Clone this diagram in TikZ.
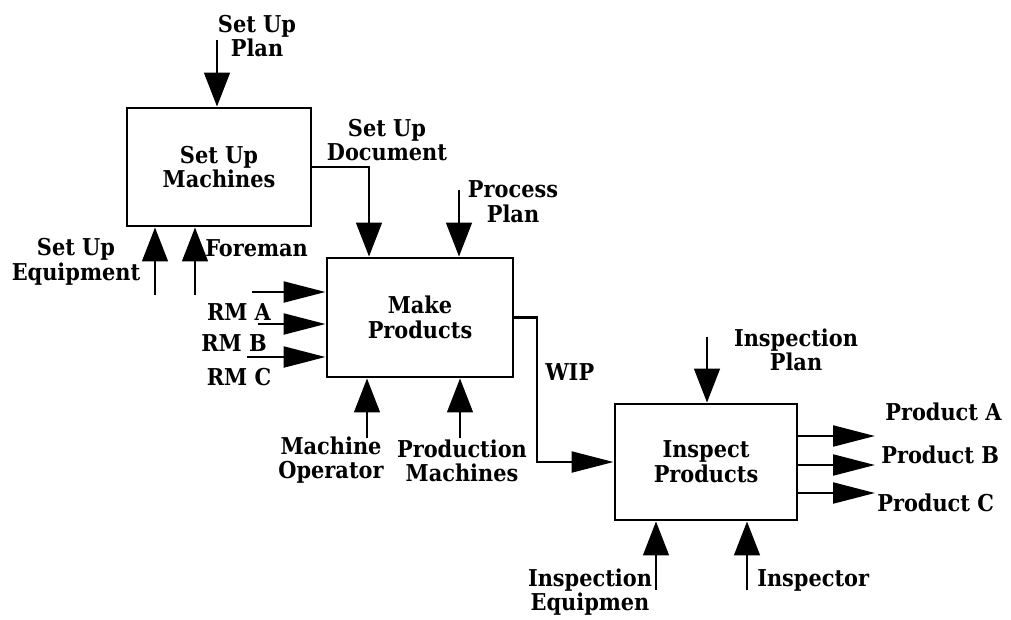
\documentclass[tikz,border=0pt]{standalone}
\usepackage{fontspec}
\setmainfont{DejaVu Serif Condensed}[BoldFont={DejaVu Serif Condensed Bold}]
\usetikzlibrary{arrows.meta}

\begin{document}
\begin{tikzpicture}[
    x=0.025cm, y=-0.025cm,
    box/.style={rectangle, draw=black, line width=2pt, align=center,
                font=\bfseries\fontsize{16.5}{17.5}\selectfont},
    lbl/.style={align=center, inner sep=0pt, font=\bfseries\fontsize{16.5}{17.5}\selectfont},
    vline/.style={-{Triangle[length=8.5mm, width=6.4mm]}, line width=2pt},
    hline/.style={-{Triangle[length=10.5mm, width=5.2mm]}, line width=2pt},
  ]
  \useasboundingbox (0,0) rectangle (1011,619);

  % activity boxes
  \node[box, minimum width=4.6cm, minimum height=2.95cm] (setup) at (219,167) {Set Up\\Machines};
  \node[box, minimum width=4.65cm, minimum height=2.975cm] (make) at (420,317.5) {Make\\Products};
  \node[box, minimum width=4.55cm, minimum height=2.9cm] (insp) at (706,462) {Inspect\\Products};

  % free ends of the arrows
  \coordinate (supplan) at (217,40);
  \coordinate (docx)    at (369,0);
  \coordinate (procpl)  at (459,190);
  \coordinate (supeq)   at (155,295);
  \coordinate (fore)    at (195,295);
  \coordinate (rmz)     at (252,292);
  \coordinate (rma)     at (258,324);
  \coordinate (rmb)     at (247,357);
  \coordinate (mop)     at (367,438);
  \coordinate (pmach)   at (460,438);
  \coordinate (wipx)    at (537,0);
  \coordinate (insppl)  at (707,337);
  \coordinate (ieq)     at (656,590);
  \coordinate (inspr)   at (747,590);
  \coordinate (pa)      at (875,436);
  \coordinate (pb)      at (875,465);
  \coordinate (pc)      at (875,493);

  % labels
  \node[lbl] (lsupplan) at (257,36)  {Set Up\\Plan};
  \node[lbl] (ldoc)     at (387,140) {Set Up\\Document};
  \node[lbl] (lprocpl)  at (513,202) {Process\\Plan};
  \node[lbl] (lsupeq)   at (76,262)  {Set Up\\Equipment};
  \node[lbl, anchor=west] (lfore) at (205,248) {Foreman};
  \node[lbl] (lrma)     at (239,312) {RM A};
  \node[lbl] (lrmb)     at (234,343) {RM B};
  \node[lbl] (lrmc)     at (239,377) {RM C};
  \node[lbl] (lmop)     at (331,460) {Machine\\Operator};
  \node[lbl] (lpmach)   at (462,461) {Production\\Machines};
  \node[lbl, anchor=west] (lwip) at (545,372) {WIP};
  \node[lbl] (linsppl)  at (796,350) {Inspection\\Plan};
  \node[lbl, anchor=west] (lpa) at (885,412) {Product A};
  \node[lbl, anchor=west] (lpb) at (881,455) {Product B};
  \node[lbl, anchor=west] (lpc) at (877,503) {Product C};
  \node[lbl] (lieq)     at (590,592) {Inspection\\Equipmen};
  \node[lbl, anchor=west] (linspr) at (757,580) {Inspector};

  % set up machines
  \draw[vline] (supplan) -- (supplan |- setup.north);
  \draw[vline] (supeq) -- (supeq |- setup.south);
  \draw[vline] (fore) -- (fore |- setup.south);
  \draw[vline] (setup.east) -| (docx |- make.north);

  % make products
  \draw[vline] (procpl) -- (procpl |- make.north);
  \draw[hline] (rmz) -- (rmz -| make.west);
  \draw[hline] (rma) -- (rma -| make.west);
  \draw[hline] (rmb) -- (rmb -| make.west);
  \draw[vline] (mop) -- (mop |- make.south);
  \draw[vline] (pmach) -- (pmach |- make.south);
  \draw[hline] (make.east) -| (wipx |- insp.west) -- (insp.west);

  % inspect products
  \draw[vline] (insppl) -- (insppl |- insp.north);
  \draw[vline] (ieq) -- (ieq |- insp.south);
  \draw[vline] (inspr) -- (inspr |- insp.south);
  \draw[hline] (insp.east |- pa) -- (pa);
  \draw[hline] (insp.east |- pb) -- (pb);
  \draw[hline] (insp.east |- pc) -- (pc);

\end{tikzpicture}
\end{document}
